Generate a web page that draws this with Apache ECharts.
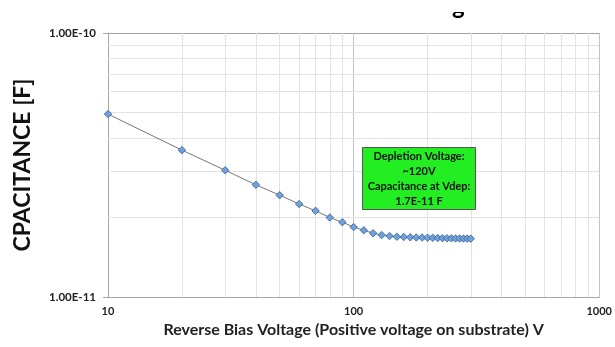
<!DOCTYPE html>
<html>
<head>
<meta charset="utf-8">
<script src="https://cdn.jsdelivr.net/npm/echarts@6/dist/echarts.min.js"></script>
<style>
html,body{margin:0;padding:0;background:#fff;}
#chart{width:615px;height:347px;}
</style>
</head>
<body>
<div id="chart"></div>
<script>
// ---- data ----
const voltages = [10,20,30,40,50,60,70,80,90,100,110,120,130,140,150,160,170,180,190,200,210,220,230,240,250,260,270,280,290,300];
const capacitance = [4.93e-11,3.60e-11,3.02e-11,2.66e-11,2.43e-11,2.25e-11,2.12e-11,2.00e-11,1.92e-11,1.84e-11,
  1.79e-11,1.745e-11,1.717e-11,1.702e-11,1.692e-11,1.688e-11,1.684e-11,1.681e-11,1.679e-11,1.677e-11,
  1.675e-11,1.673e-11,1.671e-11,1.669e-11,1.668e-11,1.667e-11,1.666e-11,1.665e-11,1.664e-11,1.663e-11];
const xMinorGrid = [20,30,40,50,60,70,80,90,200,300,400,500,600,700,800,900];
const yMinorGrid = [2e-11,3e-11,4e-11,5e-11,6e-11,7e-11,8e-11,9e-11];
const xRange = [10, 1000];
const yRange = [1e-11, 1e-10];
const xAxisName = 'Reverse Bias Voltage (Positive voltage on substrate) V';
const yAxisName = 'CPACITANCE [F]';
const annotationLines = ['Depletion Voltage:', '~120V', 'Capacitance at Vdep:', '1.7E-11 F'];
const titleFragment = 'g';

const FONT = 'Lato, "Open Sans", sans-serif';
const chart = echarts.init(document.getElementById('chart'), null, {renderer:'canvas'});

const minorLines = xMinorGrid.map(v => [{coord: [v, yRange[0]]}, {coord: [v, yRange[1]]}])
  .concat(yMinorGrid.map(v => [{coord: [xRange[0], v]}, {coord: [xRange[1], v]}]));

chart.setOption({
  animation: false,
  backgroundColor: '#ffffff',
  grid: {left: 108, right: 15, top: 33, bottom: 50, containLabel: false},
  xAxis: {
    type: 'log', logBase: 10, min: xRange[0], max: xRange[1],
    name: xAxisName, nameLocation: 'middle', nameGap: 21,
    nameTextStyle: {fontFamily: FONT, fontWeight: 'bold', fontSize: 16, color: '#222'},
    axisLine: {show: true, lineStyle: {color: '#a6a6a6', width: 1}},
    axisTick: {show: false},
    axisLabel: {fontFamily: FONT, fontWeight: 'bold', fontSize: 11, color: '#222', margin: 9,
      formatter: v => String(Math.round(v))},
    splitLine: {show: true, lineStyle: {color: '#c4c4c4', width: 1}}
  },
  yAxis: {
    type: 'log', logBase: 10, min: yRange[0], max: yRange[1],
    name: yAxisName, nameLocation: 'middle', nameGap: 74, nameRotate: 90,
    nameTextStyle: {fontFamily: FONT, fontWeight: 'bold', fontSize: 23, color: '#111'},
    axisLine: {show: true, lineStyle: {color: '#a6a6a6', width: 1}},
    axisTick: {show: true, inside: false, length: 5, lineStyle: {color: '#a6a6a6'}},
    axisLabel: {fontFamily: FONT, fontWeight: 'bold', fontSize: 11.5, color: '#222', margin: 12,
      formatter: v => Number(v).toExponential(2).toUpperCase()},
    splitLine: {show: true, lineStyle: {color: '#a0a0a0', width: 1}}
  },
  series: [{
    type: 'line',
    data: voltages.map((v, i) => [v, capacitance[i]]),
    symbol: 'diamond', symbolSize: 7.5, showSymbol: true,
    lineStyle: {color: '#777777', width: 1},
    itemStyle: {color: '#6fa2dc', borderColor: '#3b5f8c', borderWidth: 0.8},
    z: 5,
    markLine: {
      silent: true, symbol: ['none','none'], label: {show: false},
      lineStyle: {color: '#e2e2e2', width: 1, type: 'solid'},
      data: minorLines, z: 1
    }
  }],
  graphic: [
    {type: 'text', left: 452, top: -6, z: 100,
      style: {text: titleFragment, font: 'bold 24px ' + FONT, fill: '#000'}},
    {type: 'rect', left: 430, top: 0, z: 101, shape: {width: 60, height: 12}, style: {fill: '#ffffff'}},
    {type: 'group', left: 362, top: 147, z: 100, children: [
      {type: 'rect', z: 100, shape: {x: 0, y: 0, width: 113, height: 62},
        style: {fill: '#22ee22', stroke: '#555', lineWidth: 1}},
      {type: 'text', z: 101, style: {x: 56.5, y: 31, text: annotationLines.join('\n'), align: 'center', verticalAlign: 'middle',
        font: 'bold 11px ' + FONT, fill: '#111', lineHeight: 15}}
    ]}
  ]
});
</script>
</body>
</html>
